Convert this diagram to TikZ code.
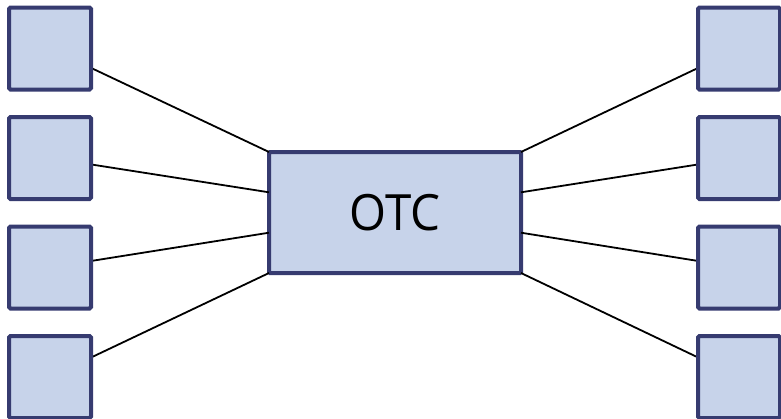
\documentclass[tikz,border=0pt]{standalone}
\usepackage{fontspec}
\setsansfont{Open Sans}
\definecolor{boxfill}{HTML}{C7D3EA}
\definecolor{boxline}{HTML}{363B70}
\begin{document}
\begin{tikzpicture}[x=1pt,y=-1pt,
  party/.style={draw=boxline,fill=boxfill,line width=4pt,rounded corners=1.5pt,
    minimum width=82pt,minimum height=82pt,inner sep=0pt},
  hub/.style={draw=boxline,fill=boxfill,line width=4pt,rounded corners=1pt,
    minimum width=252pt,minimum height=121pt,inner sep=0pt,
    font=\sffamily\fontsize{50}{50}\selectfont},
  link/.style={draw=black,line width=1.8pt}]
\useasboundingbox (0,0) rectangle (781,418);
% central box
\node[hub] (otc) at (395,212.5) {\raisebox{-2pt}{\scalebox{0.95}[1]{OTC}}};
% anchor points on the sides of the central box
\foreach \i/\yy in {1/152,2/192.3,3/232.7,4/273}{
  \coordinate (L\i) at (269,\yy);
  \coordinate (R\i) at (521,\yy);
}
% link lines from the centres of the side boxes, drawn first so the boxes cover them
\foreach \i/\yy in {1/48.5,2/158,3/267.5,4/377}{
  \coordinate (lc\i) at (50,\yy);
  \coordinate (rc\i) at (739,\yy);
  \draw[link] (lc\i) -- (L\i);
  \draw[link] (rc\i) -- (R\i);
}
% side boxes
\foreach \i in {1,...,4}{
  \node[party] (left\i) at (lc\i) {};
  \node[party] (right\i) at (rc\i) {};
}
\end{tikzpicture}
\end{document}
